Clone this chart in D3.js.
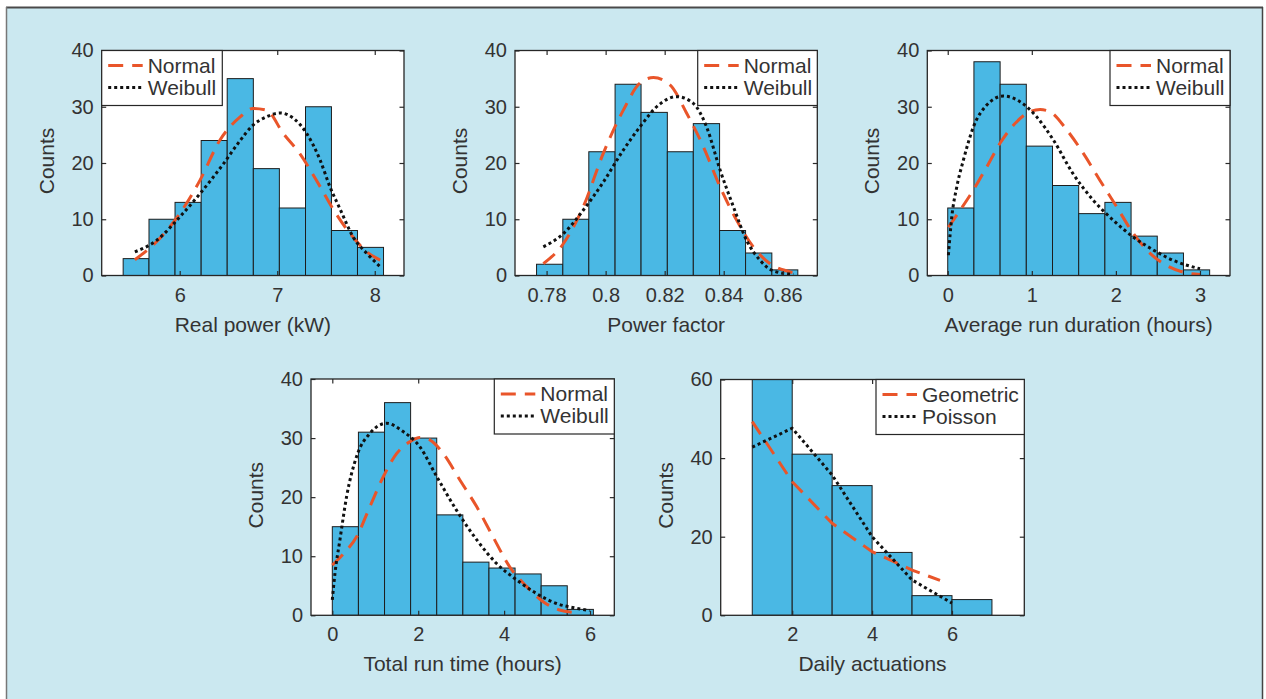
<!DOCTYPE html>
<html>
<head>
<meta charset="utf-8">
<script src="https://cdn.jsdelivr.net/npm/d3@7"></script>
<style>
  body { margin: 0; background: #fff; }
  text { font-family: "Liberation Sans", Arial, Helvetica, sans-serif; fill: #333; }
</style>
</head>
<body>
<script>
// ---- data ----
// Real power (kW)
const powerEdges = [5.42, 5.685, 5.952, 6.22, 6.487, 6.755, 7.022, 7.29, 7.556, 7.823, 8.09];
const powerCounts = [3, 10, 13, 24, 35, 19, 12, 30, 8, 5];
const powerNormX = [5.54, 5.79, 6.0, 6.21, 6.41, 6.62, 6.75, 6.89, 7.06, 7.23, 7.44, 7.58, 7.75, 7.92, 8.06];
const powerNormY = [2.8, 6.5, 11, 17, 24, 28.2, 29.7, 29.4, 25.3, 21.7, 15.8, 11.6, 7.4, 4.2, 2.7];
const powerWeibX = [5.54, 5.76, 6.0, 6.21, 6.45, 6.62, 6.75, 6.89, 7.03, 7.17, 7.30, 7.44, 7.54, 7.65, 7.78, 7.92, 8.06];
const powerWeibY = [4.2, 6.2, 10.4, 14.6, 19.9, 24, 26.7, 28.2, 28.9, 27.9, 25.3, 20.5, 15.8, 11.6, 6.8, 3.9, 1.5];

// Power factor
const pfEdges = [0.7766, 0.7855, 0.7943, 0.8032, 0.812, 0.8209, 0.8297, 0.8386, 0.8474, 0.8563, 0.8651];
const pfCounts = [2, 10, 22, 34, 29, 22, 27, 8, 4, 1];
const pfNormX = [0.7789, 0.7856, 0.7924, 0.7992, 0.806, 0.8116, 0.8162, 0.8218, 0.8275, 0.8331, 0.8388, 0.8444, 0.85, 0.8557, 0.8614, 0.8651];
const pfNormY = [2.1, 5.6, 12.2, 21.7, 29.4, 34.2, 35.2, 33.9, 28.8, 22.9, 15.7, 9.8, 5.1, 2.1, 0.8, 0.3];
const pfWeibX = [0.7789, 0.7856, 0.7924, 0.7992, 0.806, 0.8116, 0.8173, 0.8241, 0.8297, 0.8342, 0.8388, 0.8433, 0.8478, 0.8523, 0.8568, 0.8636];
const pfWeibY = [5.1, 7.4, 11.6, 16.6, 22.3, 26.4, 30, 31.8, 30.6, 26.4, 18.7, 12.2, 6.2, 2.7, 0.8, 0.2];

// Average run duration (hours)
const durEdges = [0, 0.3115, 0.623, 0.9345, 1.246, 1.5575, 1.869, 2.1805, 2.492, 2.8035, 3.115];
const durCounts = [12, 38, 34, 23, 16, 11, 13, 7, 4, 1];
const durNormX = [0.008, 0.147, 0.305, 0.464, 0.622, 0.781, 0.939, 1.098, 1.217, 1.415, 1.613, 1.811, 2.01, 2.21, 2.41, 2.60, 2.80, 3.0];
const durNormY = [8.6, 11.6, 15.2, 19.3, 23.5, 26.7, 28.8, 29.5, 29.1, 25.9, 21.7, 16.9, 12.2, 7.4, 3.9, 1.8, 0.6, 0.2];
const durWeibX = [0.008, 0.048, 0.107, 0.186, 0.305, 0.464, 0.662, 0.86, 1.058, 1.256, 1.49, 1.73, 1.97, 2.21, 2.45, 2.68, 3.0];
const durWeibY = [3.6, 10.4, 15.7, 20.5, 26.4, 30.3, 31.9, 30.9, 28.2, 24.1, 18.1, 13.4, 9.8, 6.8, 4.5, 2.7, 1.2];

// Total run time (hours)
const totEdges = [0, 0.608, 1.216, 1.823, 2.431, 3.039, 3.647, 4.255, 4.862, 5.47, 6.078];
const totCounts = [15, 31, 36, 30, 17, 9, 8, 7, 5, 1];
const totNormX = [0, 0.256, 0.566, 0.876, 1.19, 1.50, 1.81, 2.04, 2.27, 2.58, 2.97, 3.36, 3.74, 4.13, 4.52, 4.91, 5.29, 5.6];
const totNormY = [8.5, 10.4, 13.3, 18.4, 23.5, 27.4, 29.4, 30.1, 29.7, 27.4, 22.9, 18.4, 13.3, 8.2, 4.9, 2.3, 0.9, 0.5];
const totWeibX = [0, 0.062, 0.178, 0.333, 0.566, 0.876, 1.26, 1.65, 2.04, 2.43, 2.89, 3.36, 3.82, 4.29, 4.75, 5.22, 5.68, 5.99];
const totWeibY = [2.6, 7.1, 12.8, 20.1, 26.9, 30.8, 32.5, 31.1, 28.5, 23.5, 17.8, 12.8, 8.8, 6.0, 3.7, 2.0, 1.2, 0.8];

// Daily actuations
const actEdges = [1, 2, 3, 4, 5, 6, 7];
const actCounts = [60, 41, 33, 16, 5, 4];
const actGeoX = [1, 2, 3, 4, 5, 5.7];
const actGeoY = [49.3, 34.0, 23.4, 16.2, 11.5, 8.9];
const actPoisX = [1, 2, 3, 4, 5, 6];
const actPoisY = [42.8, 47.6, 35.7, 20.0, 9.0, 3.1];

const orange = "#e9552a";
const barFill = "#4ab8e4";

const svg = d3.select("body").append("svg")
    .attr("width", 1266)
    .attr("height", 699);

// light blue panel with a dark frame
svg.append("rect")
    .attr("x", 6).attr("y", 7)
    .attr("width", 1257).attr("height", 700)
    .attr("fill", "#cbe8f0");
svg.append("line").attr("x1", 6).attr("x2", 1263).attr("y1", 7.5).attr("y2", 7.5)
    .attr("stroke", "#4a4a4a").attr("stroke-width", 2);
svg.append("line").attr("x1", 6.5).attr("x2", 6.5).attr("y1", 7).attr("y2", 699)
    .attr("stroke", "#777").attr("stroke-width", 1.5);
svg.append("line").attr("x1", 1262.5).attr("x2", 1262.5).attr("y1", 7).attr("y2", 699)
    .attr("stroke", "#444").attr("stroke-width", 1.5);

let clipId = 0;

function histPanel(p) {
    const g = svg.append("g");
    const x = d3.scaleLinear().domain(p.xDomain).range([p.left, p.right]);
    const y = d3.scaleLinear().domain([0, p.yMax]).range([p.bottom, p.top]);

    g.append("rect")
        .attr("x", p.left).attr("y", p.top)
        .attr("width", p.right - p.left).attr("height", p.bottom - p.top)
        .attr("fill", "#fff");

    const id = "clip" + (clipId++);
    g.append("clipPath").attr("id", id)
        .append("rect")
        .attr("x", p.left).attr("y", p.top)
        .attr("width", p.right - p.left).attr("height", p.bottom - p.top);

    const inner = g.append("g").attr("clip-path", `url(#${id})`);

    inner.selectAll("rect.bar")
        .data(p.counts)
        .join("rect")
        .attr("class", "bar")
        .attr("x", (d, i) => x(p.edges[i]))
        .attr("width", (d, i) => x(p.edges[i + 1]) - x(p.edges[i]))
        .attr("y", (d) => y(d))
        .attr("height", (d) => y(0) - y(d))
        .attr("fill", barFill)
        .attr("stroke", "#1d1d1d")
        .attr("stroke-width", 1);

    // fitted curves
    p.curves.forEach((c) => {
        const pts = c.xs.map((v, i) => [v, c.ys[i]]);
        const line = d3.line()
            .x((d) => x(d[0]))
            .y((d) => y(d[1]))
            .curve(p.smooth ? d3.curveMonotoneX : d3.curveLinear);
        inner.append("path")
            .attr("d", line(pts))
            .attr("fill", "none")
            .attr("stroke", c.color)
            .attr("stroke-width", 3)
            .attr("stroke-dasharray", c.dash);
    });

    // axes, ticks inside on all four sides
    const fmt = (d) => String(d);
    const bottomAx = g.append("g")
        .attr("transform", `translate(0,${p.bottom})`)
        .call(d3.axisBottom(x).tickValues(p.xTicks).tickSize(-4.5).tickPadding(12).tickFormat(fmt));
    const topAx = g.append("g")
        .attr("transform", `translate(0,${p.top})`)
        .call(d3.axisTop(x).tickValues(p.xTicks).tickSize(-4.5).tickFormat(""));
    const leftAx = g.append("g")
        .attr("transform", `translate(${p.left},0)`)
        .call(d3.axisLeft(y).tickValues(p.yTicks).tickSize(-4.5).tickPadding(8).tickFormat(fmt));
    const rightAx = g.append("g")
        .attr("transform", `translate(${p.right},0)`)
        .call(d3.axisRight(y).tickValues(p.yTicks).tickSize(-4.5).tickFormat(""));

    [bottomAx, topAx, leftAx, rightAx].forEach((a) => {
        a.select(".domain").remove();
        a.selectAll(".tick line").attr("stroke", "#2a2a2a").attr("stroke-width", 1.2);
        a.selectAll(".tick text")
            .attr("font-family", null)
            .style("font-size", "20px")
            .attr("fill", "#333");
    });

    g.append("rect")
        .attr("x", p.left).attr("y", p.top)
        .attr("width", p.right - p.left).attr("height", p.bottom - p.top)
        .attr("fill", "none")
        .attr("stroke", "#262626")
        .attr("stroke-width", 1.3);

    // axis labels
    g.append("text")
        .attr("x", (p.left + p.right) / 2)
        .attr("y", p.bottom + 56)
        .attr("text-anchor", "middle")
        .style("font-size", "21px")
        .text(p.xLabel);

    g.append("text")
        .attr("transform", `translate(${p.left - 48},${(p.top + p.bottom) / 2 - 2}) rotate(-90)`)
        .attr("text-anchor", "middle")
        .style("font-size", "21px")
        .text("Counts");

    // legend box
    const lg = g.append("g").attr("transform", `translate(${p.legendX},${p.top})`);
    lg.append("rect")
        .attr("width", p.legendW).attr("height", 55)
        .attr("fill", "#fff")
        .attr("stroke", "#262626")
        .attr("stroke-width", 1.2);
    p.curves.forEach((c, i) => {
        const ly = 15 + i * 22;
        lg.append("line")
            .attr("x1", 6.5).attr("x2", 41)
            .attr("y1", ly).attr("y2", ly)
            .attr("stroke", c.color)
            .attr("stroke-width", 3)
            .attr("stroke-dasharray", c.dash);
        lg.append("text")
            .attr("x", 46)
            .attr("y", ly + 7)
            .style("font-size", "21px")
            .text(c.name);
    });
}

const dashed = "15,9";
const dotted = "3,3";

histPanel({
    left: 101.7, right: 404, top: 50.5, bottom: 275.5,
    xDomain: [5.2, 8.3], yMax: 40,
    xTicks: [6, 7, 8], yTicks: [0, 10, 20, 30, 40],
    edges: powerEdges, counts: powerCounts, smooth: true,
    xLabel: "Real power (kW)",
    legendX: 101.7, legendW: 120.6,
    curves: [
        { name: "Normal", xs: powerNormX, ys: powerNormY, color: orange, dash: dashed },
        { name: "Weibull", xs: powerWeibX, ys: powerWeibY, color: "#111", dash: dotted },
    ],
});

histPanel({
    left: 515, right: 817.3, top: 50.5, bottom: 275.5,
    xDomain: [0.7693, 0.8717], yMax: 40,
    xTicks: [0.78, 0.8, 0.82, 0.84, 0.86], yTicks: [0, 10, 20, 30, 40],
    edges: pfEdges, counts: pfCounts, smooth: true,
    xLabel: "Power factor",
    legendX: 697.7, legendW: 119.6,
    curves: [
        { name: "Normal", xs: pfNormX, ys: pfNormY, color: orange, dash: dashed },
        { name: "Weibull", xs: pfWeibX, ys: pfWeibY, color: "#111", dash: dotted },
    ],
});

histPanel({
    left: 927.3, right: 1230, top: 50.5, bottom: 275.5,
    xDomain: [-0.243, 3.357], yMax: 40,
    xTicks: [0, 1, 2, 3], yTicks: [0, 10, 20, 30, 40],
    edges: durEdges, counts: durCounts, smooth: true,
    xLabel: "Average run duration (hours)",
    legendX: 1110, legendW: 120,
    curves: [
        { name: "Normal", xs: durNormX, ys: durNormY, color: orange, dash: dashed },
        { name: "Weibull", xs: durWeibX, ys: durWeibY, color: "#111", dash: dotted },
    ],
});

histPanel({
    left: 311, right: 614.3, top: 379, bottom: 615.3,
    xDomain: [-0.496, 6.565], yMax: 40,
    xTicks: [0, 2, 4, 6], yTicks: [0, 10, 20, 30, 40],
    edges: totEdges, counts: totCounts, smooth: true,
    xLabel: "Total run time (hours)",
    legendX: 494.3, legendW: 120,
    curves: [
        { name: "Normal", xs: totNormX, ys: totNormY, color: orange, dash: dashed },
        { name: "Weibull", xs: totWeibX, ys: totWeibY, color: "#111", dash: dotted },
    ],
});

histPanel({
    left: 720.7, right: 1024.3, top: 379.5, bottom: 615.3,
    xDomain: [0.21, 7.81], yMax: 60,
    xTicks: [2, 4, 6], yTicks: [0, 20, 40, 60],
    edges: actEdges, counts: actCounts, smooth: false,
    xLabel: "Daily actuations",
    legendX: 876, legendW: 148.3,
    curves: [
        { name: "Geometric", xs: actGeoX, ys: actGeoY, color: orange, dash: dashed },
        { name: "Poisson", xs: actPoisX, ys: actPoisY, color: "#111", dash: dotted },
    ],
});
</script>
</body>
</html>
